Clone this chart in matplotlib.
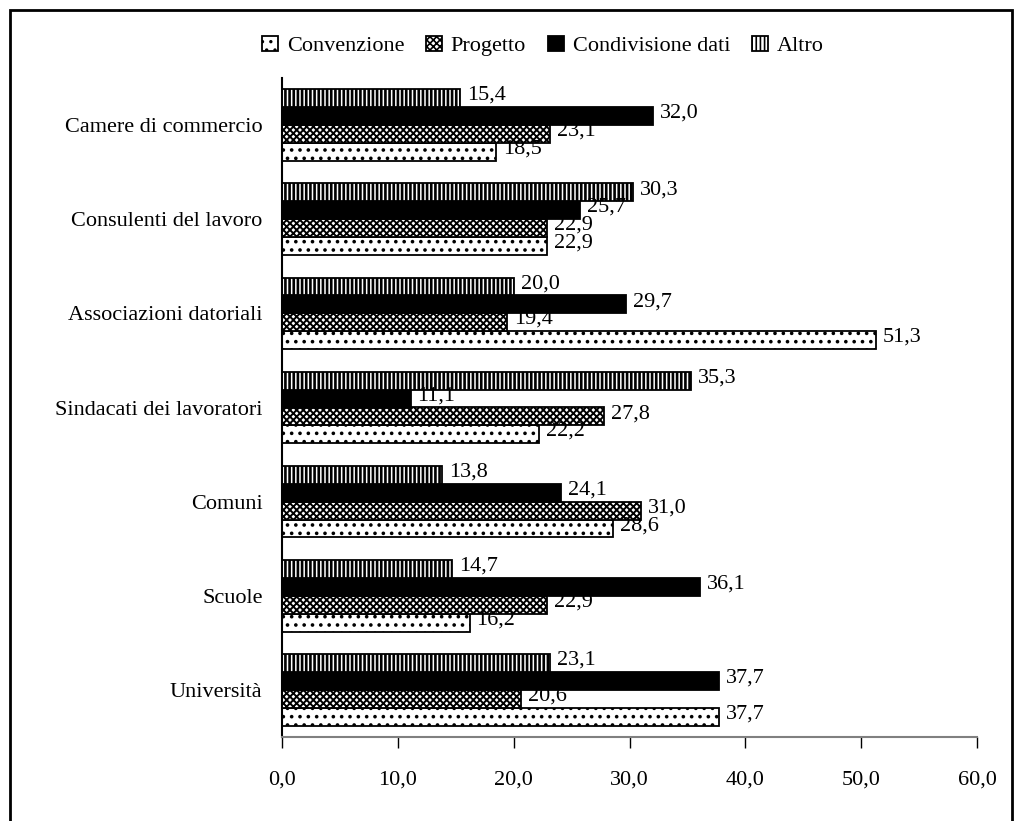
import matplotlib
matplotlib.use("Agg")
import matplotlib.pyplot as plt
import numpy as np
from matplotlib.patches import Rectangle

# Data
categories = ["Camere di commercio", "Consulenti del lavoro", "Associazioni datoriali",
              "Sindacati dei lavoratori", "Comuni", "Scuole", "Università"]
series_names = ["Convenzione", "Progetto", "Condivisione dati", "Altro"]
convenzione = [18.5, 22.9, 51.3, 22.2, 28.6, 16.2, 37.7]
progetto = [23.1, 22.9, 19.4, 27.8, 31.0, 22.9, 20.6]
condivisione = [32.0, 25.7, 29.7, 11.1, 24.1, 36.1, 37.7]
altro = [15.4, 30.3, 20.0, 35.3, 13.8, 14.7, 23.1]
x_ticks = [0, 10, 20, 30, 40, 50, 60]

plt.rcParams["font.family"] = ["Liberation Serif", "DejaVu Serif"]
FS = 16

fig = plt.figure(figsize=(10.19, 8.21), dpi=100)
ax = fig.add_axes([282 / 1019, 1 - 737 / 821, (977 - 282) / 1019, (737 - 78) / 821])

n = len(categories)
base = np.arange(n)[::-1].astype(float)
h = 0.19
styles = [
    dict(facecolor="white", edgecolor="black", hatch="..", linewidth=1.3),
    dict(facecolor="white", edgecolor="black", hatch="xxxxx", linewidth=1.3),
    dict(facecolor="black", edgecolor="black", linewidth=1.3),
    dict(facecolor="white", edgecolor="black", hatch="||||", linewidth=1.3),
]
hatch_widths = [1.4, 1.4, 1.0, 1.9]
all_series = [convenzione, progetto, condivisione, altro]
handles = []
for k, (vals, name, st, hw) in enumerate(zip(all_series, series_names, styles, hatch_widths)):
    ypos = base + (k - 1.5) * h
    with plt.rc_context({"hatch.linewidth": hw}):
        bars = ax.barh(ypos, vals, height=h, label=name, **st)
    handles.append(bars)
    for y, v in zip(ypos, vals):
        ax.text(v + 0.6, y + 0.03, f"{v:.1f}".replace(".", ","), va="center",
                ha="left", fontsize=FS)

ax.set_xlim(0, 60)
ax.set_ylim(-0.5, n - 0.5)
ax.set_xticks(x_ticks)
ax.set_xticklabels([f"{t:.1f}".replace(".", ",") for t in x_ticks], fontsize=FS)
ax.set_yticks(base)
ax.set_yticklabels(categories, fontsize=FS)
ax.tick_params(axis="y", length=0, pad=14)
ax.tick_params(axis="x", length=8, width=1, direction="out", pad=16, color="black")
for s in ["top", "right"]:
    ax.spines[s].set_visible(False)
ax.spines["bottom"].set_color("#808080")
ax.spines["bottom"].set_linewidth(1.5)
ax.spines["left"].set_color("black")
ax.spines["left"].set_linewidth(1.5)

with plt.rc_context({"hatch.linewidth": 1.2}):
    fig.legend(handles=handles, labels=series_names, loc="center", ncol=4,
               bbox_to_anchor=(543 / 1019, 1 - 46 / 821), frameon=False, fontsize=FS,
               handlelength=0.7, handleheight=0.7, handletextpad=0.4, columnspacing=1.0)

# Outer frame around the figure panel
frame = Rectangle((10 / 1019, -0.05), (1012 - 10) / 1019, 1.05 - 10 / 821,
                  transform=fig.transFigure, fill=False, edgecolor="black",
                  linewidth=2, clip_on=False)
fig.patches.append(frame)

fig.savefig("out.png", dpi=100)
